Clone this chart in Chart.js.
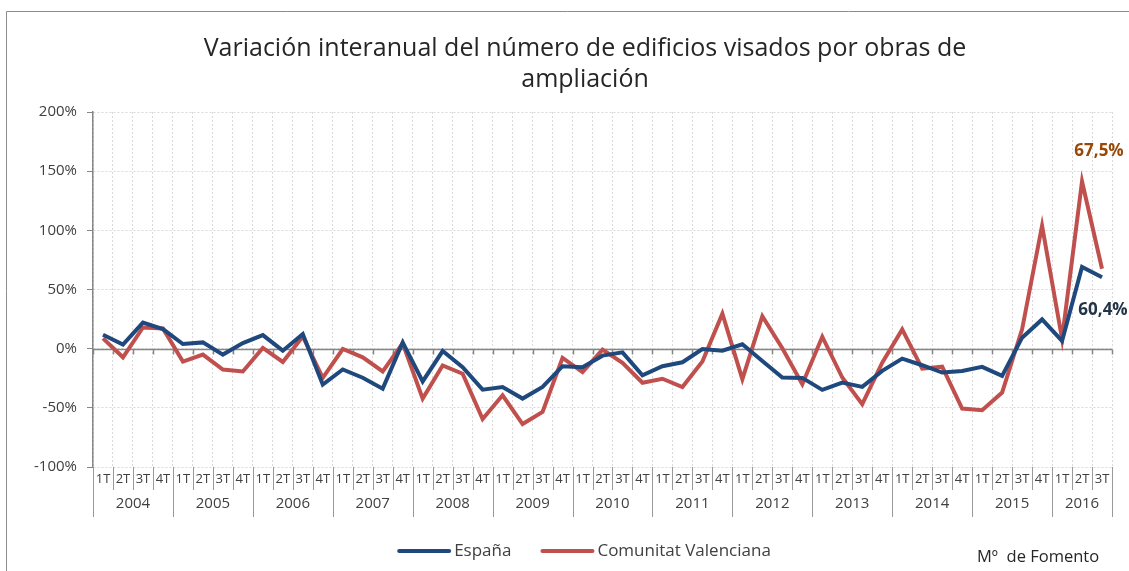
<!DOCTYPE html>
<html>
<head>
<meta charset="utf-8">
<script src="https://cdn.jsdelivr.net/npm/chart.js@4"></script>
<style>
  body { margin: 0; background: #fff; overflow: hidden; }
  #wrap { width: 1129px; height: 571px; position: relative; }
</style>
</head>
<body>
<div id="wrap"><canvas id="myChartEdificios"></canvas></div>
<script>
// Quarter labels and years on the x axis
const quarterNames = ["1T", "2T", "3T", "4T"];
const years = ["2004", "2005", "2006", "2007", "2008", "2009", "2010", "2011", "2012", "2013", "2014", "2015", "2016"];

// Year-on-year variation (%)
const espana = [
  11.7, 3.4, 22, 16.5,
  3.9, 5.3, -5, 4.7,
  11.5, -1.7, 12.3, -30.4,
  -17.6, -24.6, -33.8, 5.3,
  -27.7, -2, -15.6, -34.6,
  -32.4, -42.2, -32.4, -14.8,
  -15.6, -5.9, -3.1, -22.6,
  -14.8, -11.5, -0.3, -1.7,
  3.7, -10.4, -24.4, -24.7,
  -34.8, -28.7, -32.3, -18.8,
  -8.4, -14, -20.2, -18.8,
  -15.4, -23, 9.3, 24.7,
  6.5, 69.1, 60.4
];
const valenciana = [
  8.7, -7.3, 17.9, 17,
  -10.9, -5, -17.6, -19.3,
  0.6, -11.2, 10.3, -24.6,
  -0.3, -7.3, -19.3, 4.5,
  -42.2, -14.2, -21.2, -59.5,
  -39.4, -63.7, -53.4, -7.8,
  -19.8, -0.8, -12, -28.8,
  -25.4, -32.4, -10.9, 29.6,
  -25.8, 27.5, 0.3, -30,
  10.1, -24.4, -46.9, -11.8,
  16.3, -16.9, -15.2, -50.6,
  -52, -37.1, 16.3, 103.9,
  8.4, 141.3, 67.5
];

// y axis ticks
const yMin = -100, yMax = 200, yStep = 50;

const titleLines = ["Variación interanual del número de edificios visados por obras de", "ampliación"];
const source = "M\u00BA  de Fomento";

// build the categories (one per quarter, as many as there are values)
const labels = [];
const yearOf = [];
years.forEach(y => quarterNames.forEach(q => {
  if (labels.length < espana.length) { labels.push(q); yearOf.push(y); }
}));

const blue = "#1F497D";
const red = "#C0504D";
const axisGray = "#868686";
const FONT = "'Open Sans', sans-serif";

const fmt = v => v.toFixed(1).replace(".", ",") + "%";

// frame, title, zero line, year row, end labels, legend, source
const extras = {
  id: "extras",
  beforeDraw(chart) {
    const ctx = chart.ctx;
    ctx.save();
    ctx.strokeStyle = "#8c8c8c";
    ctx.lineWidth = 1;
    ctx.beginPath();
    ctx.moveTo(6.5, chart.height);
    ctx.lineTo(6.5, 11.5);
    ctx.lineTo(chart.width, 11.5);
    ctx.stroke();
    // title
    ctx.fillStyle = "#262626";
    ctx.font = "25px " + FONT;
    ctx.textAlign = "center";
    ctx.textBaseline = "middle";
    titleLines.forEach((t, i) => ctx.fillText(t, 585, 49 + i * 31));
    ctx.restore();
  },
  beforeDatasetsDraw(chart) {
    const {ctx, chartArea} = chart;
    const x = chart.scales.x, y = chart.scales.y;
    const w = (x.right - x.left) / labels.length;
    const y0 = Math.round(y.getPixelForValue(0)) + 0.5;
    ctx.save();
    ctx.strokeStyle = axisGray;
    ctx.lineWidth = 1.5;
    ctx.beginPath();
    ctx.moveTo(chartArea.left, y0);
    ctx.lineTo(chartArea.right, y0);
    for (let k = 0; k <= labels.length; k++) {
      const px = Math.round(x.left + k * w) + 0.5;
      ctx.moveTo(px, y0);
      ctx.lineTo(px, y0 + 5);
    }
    ctx.stroke();
    ctx.restore();
  },
  afterDraw(chart) {
    const {ctx} = chart;
    const x = chart.scales.x;
    const w = (x.right - x.left) / labels.length;
    const bottom = x.top;
    ctx.save();
    // separators below the plot
    ctx.strokeStyle = "#999";
    ctx.lineWidth = 1;
    ctx.beginPath();
    for (let k = 0; k <= labels.length; k++) {
      const px = Math.round(x.left + k * w) + 0.5;
      const yearEdge = k === 0 || k === labels.length || yearOf[k] !== yearOf[k - 1];
      ctx.moveTo(px, bottom);
      ctx.lineTo(px, bottom + (yearEdge ? 50 : 23));
    }
    ctx.stroke();
    // year labels
    ctx.fillStyle = "#404040";
    ctx.font = "15px " + FONT;
    ctx.textAlign = "center";
    ctx.textBaseline = "middle";
    years.forEach(yr => {
      const first = yearOf.indexOf(yr);
      const last = yearOf.lastIndexOf(yr);
      if (first < 0) return;
      const cx = (x.getPixelForValue(first) + x.getPixelForValue(last)) / 2;
      ctx.fillText(yr, cx, bottom + 37);
    });
    // values at the end of each series
    ctx.font = "bold 17px " + FONT;
    const redMeta = chart.getDatasetMeta(1).data;
    const bluMeta = chart.getDatasetMeta(0).data;
    const peak = redMeta[valenciana.indexOf(Math.max(...valenciana))];
    const lastRed = redMeta[redMeta.length - 1];
    const lastBlue = bluMeta[bluMeta.length - 1];
    ctx.fillStyle = "#984807";
    ctx.fillText(fmt(valenciana[valenciana.length - 1]), lastRed.x - 3, peak.y - 30);
    ctx.fillStyle = "#243447";
    ctx.fillText(fmt(espana[espana.length - 1]), lastBlue.x + 1, lastBlue.y + 33);
    // legend
    ctx.font = "17px " + FONT;
    ctx.textAlign = "left";
    const ly = 551, lineW = 54, gap = 3, itemGap = 29;
    const items = chart.data.datasets.map(ds => ({ text: ds.label, color: ds.borderColor, w: ctx.measureText(ds.label).width }));
    const total = items.reduce((s, it) => s + lineW + gap + it.w, 0) + itemGap * (items.length - 1);
    let lx = 584 - total / 2;
    items.forEach(it => {
      ctx.strokeStyle = it.color;
      ctx.lineWidth = 4;
      ctx.lineCap = "round";
      ctx.beginPath();
      ctx.moveTo(lx + 2, ly);
      ctx.lineTo(lx + lineW - 2, ly);
      ctx.stroke();
      ctx.fillStyle = "#404040";
      ctx.fillText(it.text, lx + lineW + gap, ly);
      lx += lineW + gap + it.w + itemGap;
    });
    // source
    ctx.font = "16.5px " + FONT;
    ctx.fillStyle = "#262626";
    ctx.fillText(source, 977, 557);
    ctx.restore();
  }
};

Chart.defaults.font.family = FONT;
Chart.defaults.color = "#404040";

const config = {
  type: "line",
  data: {
    labels,
    datasets: [
      {
        label: "España",
        data: espana,
        borderColor: blue,
        backgroundColor: blue,
        borderWidth: 4,
        pointRadius: 0,
        tension: 0
      },
      {
        label: "Comunitat Valenciana",
        data: valenciana,
        borderColor: red,
        backgroundColor: red,
        borderWidth: 4,
        pointRadius: 0,
        tension: 0
      }
    ]
  },
  options: {
    responsive: true,
    maintainAspectRatio: false,
    animation: false,
    layout: { padding: { left: 10, right: 17, top: 112, bottom: 54 } },
    plugins: {
      title: { display: false },
      legend: { display: false },
      tooltip: { enabled: false }
    },
    scales: {
      x: {
        offset: true,
        grid: { offset: true, color: "#d9d9d9", drawTicks: false },
        border: { display: false, dash: [2, 2] },
        ticks: { autoSkip: false, maxRotation: 0, padding: 4, font: { size: 13 }, color: "#404040" },
        afterFit(scale) { scale.height = 50; }
      },
      y: {
        min: yMin,
        max: yMax,
        ticks: { stepSize: yStep, padding: 10, font: { size: 15 }, color: "#404040",
          callback: v => v + "%" },
        grid: { color: "#d9d9d9", tickColor: axisGray, tickLength: 6 },
        border: { display: true, color: axisGray, width: 1.5, dash: [2, 2] },
        afterFit(scale) { scale.width = 83; }
      }
    }
  },
  plugins: [extras]
};

const myChartEdificios = new Chart(document.getElementById("myChartEdificios").getContext("2d"), config);
</script>
</body>
</html>
